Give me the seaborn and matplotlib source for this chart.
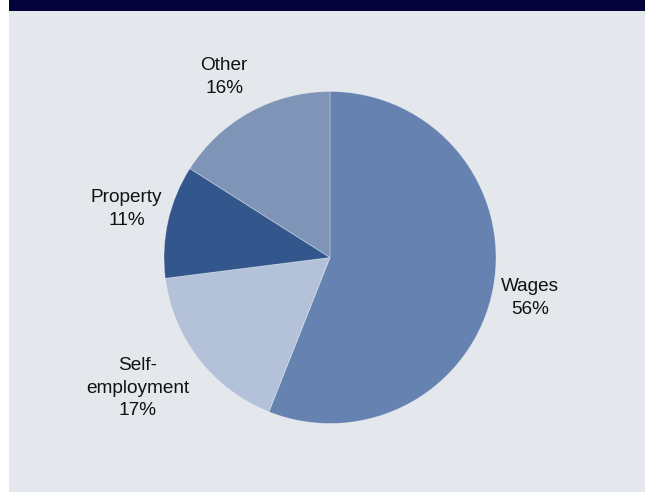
import matplotlib
matplotlib.use("Agg")
import matplotlib.pyplot as plt
import numpy as np
import seaborn as sns
from matplotlib.patches import Rectangle

# Income sources, drawn clockwise from 12 o'clock
categories = ["Wages", "Self-\nemployment", "Property", "Other"]
shares = [56, 17, 11, 16]
colors = ["#6582b0", "#b4c2d9", "#33578c", "#7f95b7"]

# label placement: radial distance (in radii) and angular nudge (deg)
label_dist = [1.23, 1.40, 1.26, 1.26]
label_nudge = [-0.6, -3.6, -0.8, 1.6]

sns.set_theme(style="white")
plt.rcParams["font.family"] = ["Liberation Sans", "DejaVu Sans"]

W, H = 645, 493
fig = plt.figure(figsize=(W / 100, H / 100), dpi=100, facecolor="white")

# panel background and header band
fig.patches.append(Rectangle((9 / W, 1 / H), 1 - 9 / W, (H - 12) / H,
                             transform=fig.transFigure, facecolor="#e4e7ec",
                             edgecolor="none", zorder=-2))
fig.patches.append(Rectangle((9 / W, (H - 11) / H), 1 - 9 / W, 11 / H,
                             transform=fig.transFigure, facecolor="#03033a",
                             edgecolor="none", zorder=-2))

cx, cy, r = 330, 257.5, 166
ax = fig.add_axes([(cx - r) / W, (H - cy - r) / H, 2 * r / W, 2 * r / H])
ax.set_facecolor("none")
ax.set_zorder(1)

wedges, _ = ax.pie(shares, colors=colors, startangle=90, counterclock=False,
                   radius=1, wedgeprops=dict(edgecolor=(1, 1, 1, 0.35), linewidth=0.6))

for w, name, val, d, nd in zip(wedges, categories, shares, label_dist, label_nudge):
    ang = np.deg2rad((w.theta1 + w.theta2) / 2 + nd)
    ax.text(d * np.cos(ang), d * np.sin(ang), f"{name}\n{val}%",
            ha="center", va="center", fontsize=13.7, color="#111111",
            linespacing=1.42)

ax.set_xlim(-1, 1)
ax.set_ylim(-1, 1)
ax.set_aspect("equal")
ax.axis("off")

fig.savefig("out.png", dpi=100, facecolor="white")
